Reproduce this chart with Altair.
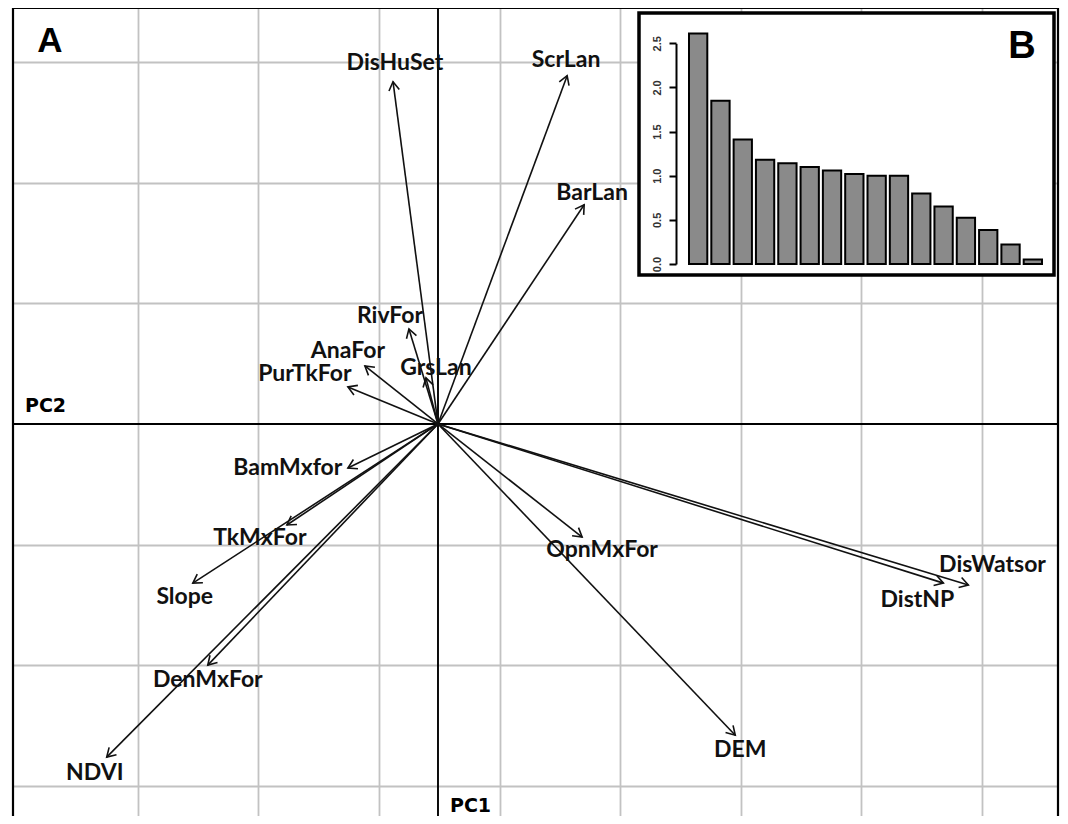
import altair as alt
import pandas as pd

# ---- Panel A: PCA loadings (arrow tips) in plot units ----
variables = ["DisHuSet", "ScrLan", "BarLan", "RivFor", "AnaFor", "PurTkFor", "GrsLan",
             "BamMxfor", "TkMxFor", "Slope", "DenMxFor", "NDVI", "OpnMxFor", "DEM",
             "DistNP", "DisWatsor"]
pc1 = [-0.373, 1.071, 1.212, -0.241, -0.606, -0.747, -0.100,
       -0.747, -1.253, -2.033, -1.909, -2.747, 1.195, 2.465, 4.191, 4.398]
pc2 = [2.838, 2.888, 1.817, 0.788, 0.481, 0.307, 0.382,
       -0.365, -0.838, -1.320, -2.000, -2.763, -0.938, -2.581, -1.320, -1.336]
label_x = [-0.357, 1.062, 1.278, -0.398, -0.747, -1.104, -0.017,
           -1.245, -1.477, -2.100, -1.909, -2.846, 1.361, 2.506, 3.975, 4.598]
label_y = [2.996, 3.021, 1.917, 0.896, 0.606, 0.410, 0.465,
           -0.365, -0.946, -1.436, -2.124, -2.896, -1.046, -2.705, -1.461, -1.170]

grid_x = [-2.49, -1.49, -0.49, 0.51, 1.51, 2.51, 3.51, 4.51]
grid_y = [-3, -2, -1, 1, 2, 3]

# ---- Panel B: eigenvalues (scree) ----
components = list(range(1, 17))
eigenvalues = [2.61, 1.85, 1.41, 1.18, 1.14, 1.10, 1.06, 1.02,
               1.00, 1.00, 0.80, 0.65, 0.525, 0.385, 0.22, 0.05]
inset_ticks = [0.0, 0.5, 1.0, 1.5, 2.0, 2.5]

W, H = 1045, 808

df = pd.DataFrame({"var": variables, "pc1": pc1, "pc2": pc2,
                   "lx": label_x, "ly": label_y})
one = pd.DataFrame({"o": [0]})
scree = pd.DataFrame({"comp": components, "ev": eigenvalues})

XS = alt.Scale(domain=[-3.524, 5.141], nice=False, zero=False)
YS = alt.Scale(domain=[-3.251, 3.449], nice=False, zero=False)
AX = alt.Axis(values=grid_x, grid=True, labels=False, ticks=False, domain=False,
              title=None, gridColor="#c2c2c2", gridWidth=1.8)
AY = alt.Axis(values=grid_y, grid=True, labels=False, ticks=False, domain=False,
              title=None, gridColor="#c2c2c2", gridWidth=1.8)

vrule = alt.Chart(one).mark_rule(color="black", strokeWidth=1.9).encode(
    x=alt.X("o:Q", scale=XS, axis=AX))
hrule = alt.Chart(one).mark_rule(color="black", strokeWidth=1.9).encode(
    y=alt.Y("o:Q", scale=YS, axis=AY))

base = alt.Chart(df).transform_calculate(
    o="0",
    ang="(atan2(-datum.pc2, datum.pc1) * 180 / PI + 360) % 360",
)
arrows = base.mark_rule(color="#111111", strokeWidth=1.6).encode(
    x=alt.X("o:Q", scale=XS, axis=AX),
    y=alt.Y("o:Q", scale=YS, axis=AY),
    x2="pc1:Q", y2="pc2:Q",
)
heads = base.mark_point(
    shape="M-1,-0.6L0,0L-1,0.6", filled=False, size=300,
    stroke="#111111", strokeWidth=1.6, opacity=1,
).encode(
    x=alt.X("pc1:Q", scale=XS, axis=AX),
    y=alt.Y("pc2:Q", scale=YS, axis=AY),
    angle=alt.Angle("ang:Q", scale=None),
)
labels = base.mark_text(
    font="Lato", fontWeight="bold", fontSize=23, color="#111111",
    align="center", baseline="middle",
).encode(
    x=alt.X("lx:Q", scale=XS, axis=AX),
    y=alt.Y("ly:Q", scale=YS, axis=AY),
    text="var:N",
)

frame_l = alt.Chart(one).mark_rule(color="black", strokeWidth=2.2).encode(
    x=alt.value(0), y=alt.value(0), y2=alt.value(H))
frame_t = alt.Chart(one).mark_rule(color="black", strokeWidth=2.2).encode(
    x=alt.value(0), x2=alt.value(W), y=alt.value(0))
frame_r = alt.Chart(one).mark_rule(color="black", strokeWidth=2.2).encode(
    x=alt.value(W), y=alt.value(0), y2=alt.value(H))

txt_a = alt.Chart(one).mark_text(
    text="A", font="Liberation Sans", fontWeight="bold", fontSize=35,
    align="center", baseline="middle", color="black",
).encode(x=alt.value(37), y=alt.value(33))
txt_pc2 = alt.Chart(one).mark_text(
    text="PC2", font="DejaVu Sans", fontWeight="bold", fontSize=19,
    align="left", baseline="middle", color="black",
).encode(x=alt.value(12), y=alt.value(398))
txt_pc1 = alt.Chart(one).mark_text(
    text="PC1", font="DejaVu Sans", fontWeight="bold", fontSize=19,
    align="left", baseline="middle", color="black",
).encode(x=alt.value(437), y=alt.value(798))

main = alt.layer(vrule, hrule, arrows, heads, labels,
                 frame_l, frame_t, frame_r, txt_a, txt_pc2, txt_pc1)

# ---- inset ----
box = alt.Chart(one).mark_rect(fill="white", stroke="black", strokeWidth=3.5).encode(
    x=alt.value(626), x2=alt.value(1041), y=alt.value(5), y2=alt.value(267))
bars = alt.Chart(scree).mark_bar(
    color="#8a8a8a", stroke="black", strokeWidth=2, strokeJoin="miter",
).encode(
    x=alt.X("comp:O", axis=None,
            scale=alt.Scale(type="band", range=[676, 1029], paddingInner=0.18, paddingOuter=0)),
    y=alt.Y("ev:Q", scale=alt.Scale(domain=[0, 2.5], range=[256, 35.3], nice=False),
            axis=alt.Axis(values=inset_ticks, format=".1f", orient="left", offset=-663,
                          labelAngle=270, labelAlign="center", labelBaseline="bottom",
                          labelFont="Liberation Sans", labelFontWeight="bold",
                          labelFontSize=11, labelColor="#333333", labelPadding=7,
                          tickSize=7, tickWidth=2, tickColor="black",
                          domainColor="black", domainWidth=2,
                          grid=False, title=None, zindex=1)),
)
txt_b = alt.Chart(one).mark_text(
    text="B", font="Liberation Sans", fontWeight="bold", fontSize=38,
    align="center", baseline="middle", color="black",
).encode(x=alt.value(1009), y=alt.value(39))

inset = alt.layer(box, bars, txt_b)

chart = alt.layer(main, inset).resolve_scale(
    x="independent", y="independent"
).properties(
    width=W, height=H,
    padding={"left": 5, "top": 0, "right": 2, "bottom": 0},
    autosize=alt.AutoSizeParams(type="none"),
).configure_view(stroke=None).configure(background="white")

chart.save("out.html", embed_options={"renderer": "svg", "actions": False})
